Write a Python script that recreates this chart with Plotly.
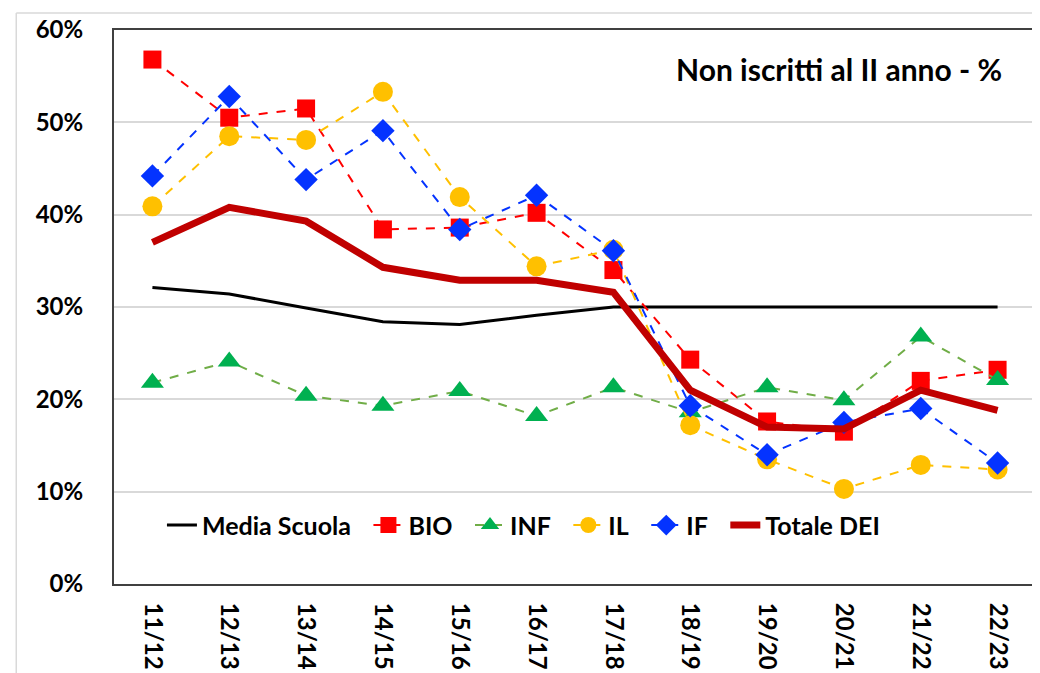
import plotly.graph_objects as go

categories = ["11/12", "12/13", "13/14", "14/15", "15/16", "16/17", "17/18",
              "18/19", "19/20", "20/21", "21/22", "22/23"]
media_scuola = [32.1, 31.4, 29.9, 28.4, 28.1, 29.1, 30.0, 30.0, 30.0, 30.0, 30.0, 30.0]
bio = [56.8, 50.5, 51.5, 38.4, 38.6, 40.2, 34.0, 24.3, 17.6, 16.5, 22.0, 23.2]
inf = [21.8, 24.1, 20.4, 19.3, 20.9, 18.2, 21.3, 18.6, 21.3, 19.9, 26.8, 22.1]
il = [40.9, 48.5, 48.1, 53.3, 41.9, 34.4, 36.2, 17.2, 13.5, 10.3, 12.9, 12.4]
if_ = [44.2, 52.8, 43.8, 49.1, 38.4, 42.1, 36.1, 19.3, 14.0, 17.5, 19.0, 13.1]
totale_dei = [37.0, 40.8, 39.3, 34.3, 32.9, 32.9, 31.6, 21.0, 17.0, 16.8, 21.0, 18.8]
y_ticks = [0, 10, 20, 30, 40, 50, 60]
title_text = "Non iscritti al II anno - %"

FONT = "Lato"
SP = "\u2002"

fig = go.Figure()
fig.add_trace(go.Scatter(x=categories, y=media_scuola, name="Media Scuola" + SP, mode="lines",
                         line=dict(color="black", width=3)))
fig.add_trace(go.Scatter(x=categories, y=bio, name="BIO" + SP, mode="lines+markers",
                         line=dict(color="#FF0000", width=2, dash="dash"),
                         marker=dict(symbol="square", size=18, color="#FF0000")))
fig.add_trace(go.Scatter(x=categories, y=inf, name="INF" + SP, mode="lines+markers",
                         line=dict(color="#70AD47", width=2, dash="dash"),
                         marker=dict(symbol="triangle-up", size=20, color="#00B050")))
fig.add_trace(go.Scatter(x=categories, y=il, name="IL" + SP, mode="lines+markers",
                         line=dict(color="#FFC000", width=2, dash="dash"),
                         marker=dict(symbol="circle", size=20, color="#FFC000")))
fig.add_trace(go.Scatter(x=categories, y=if_, name="IF" + SP, mode="lines+markers",
                         line=dict(color="#0433FF", width=2, dash="dash"),
                         marker=dict(symbol="diamond", size=18, color="#0433FF")))
fig.add_trace(go.Scatter(x=categories, y=totale_dei, name="Totale DEI", mode="lines",
                         line=dict(color="#C00000", width=7)))

fig.update_layout(
    width=1032, height=665,
    margin=dict(l=106, r=4, t=22, b=89),
    paper_bgcolor="white", plot_bgcolor="white",
    font=dict(family=FONT, size=25, color="black"),
    showlegend=True,
    legend=dict(orientation="h", x=0.052, y=0.106, xanchor="left", yanchor="middle",
                bgcolor="rgba(0,0,0,0)", font=dict(family=FONT, size=25, color="black", weight="bold"),
                itemwidth=30, tracegroupgap=0),
    annotations=[dict(text="<b>" + title_text + "</b>", x=0.965, y=0.93, xref="paper", yref="paper",
                      xanchor="right", yanchor="middle", showarrow=False,
                      font=dict(family=FONT, size=30, color="black"))],
    shapes=[
        dict(type="line", xref="paper", yref="paper", x0=-0.106, x1=1.01, y0=1.0307, y1=1.0307,
             line=dict(color="#D9D9D9", width=1.5)),
        dict(type="line", xref="paper", yref="paper", x0=-0.106, x1=-0.106, y0=1.0307, y1=-0.2,
             line=dict(color="#D9D9D9", width=1.5)),
    ],
)
fig.update_xaxes(type="category", range=[-0.5, len(categories) - 0.5], autorange=False,
                 showgrid=False, showline=True, linecolor="#404040", linewidth=2,
                 mirror=True, ticks="", tickangle=90, ticklabelstandoff=12, automargin=False,
                 tickfont=dict(family=FONT, size=24, color="black", weight="bold"))
fig.update_yaxes(range=[0, 60], tickvals=y_ticks, ticktext=[f"{v}%" for v in y_ticks],
                 showgrid=True, gridcolor="#D9D9D9", gridwidth=1.5, showline=True,
                 linecolor="#404040", linewidth=2, mirror=True, ticks="", zeroline=False,
                 ticklabelstandoff=24, automargin=False,
                 tickfont=dict(family=FONT, size=24, color="black", weight="bold"))

fig.write_html("out.html")
